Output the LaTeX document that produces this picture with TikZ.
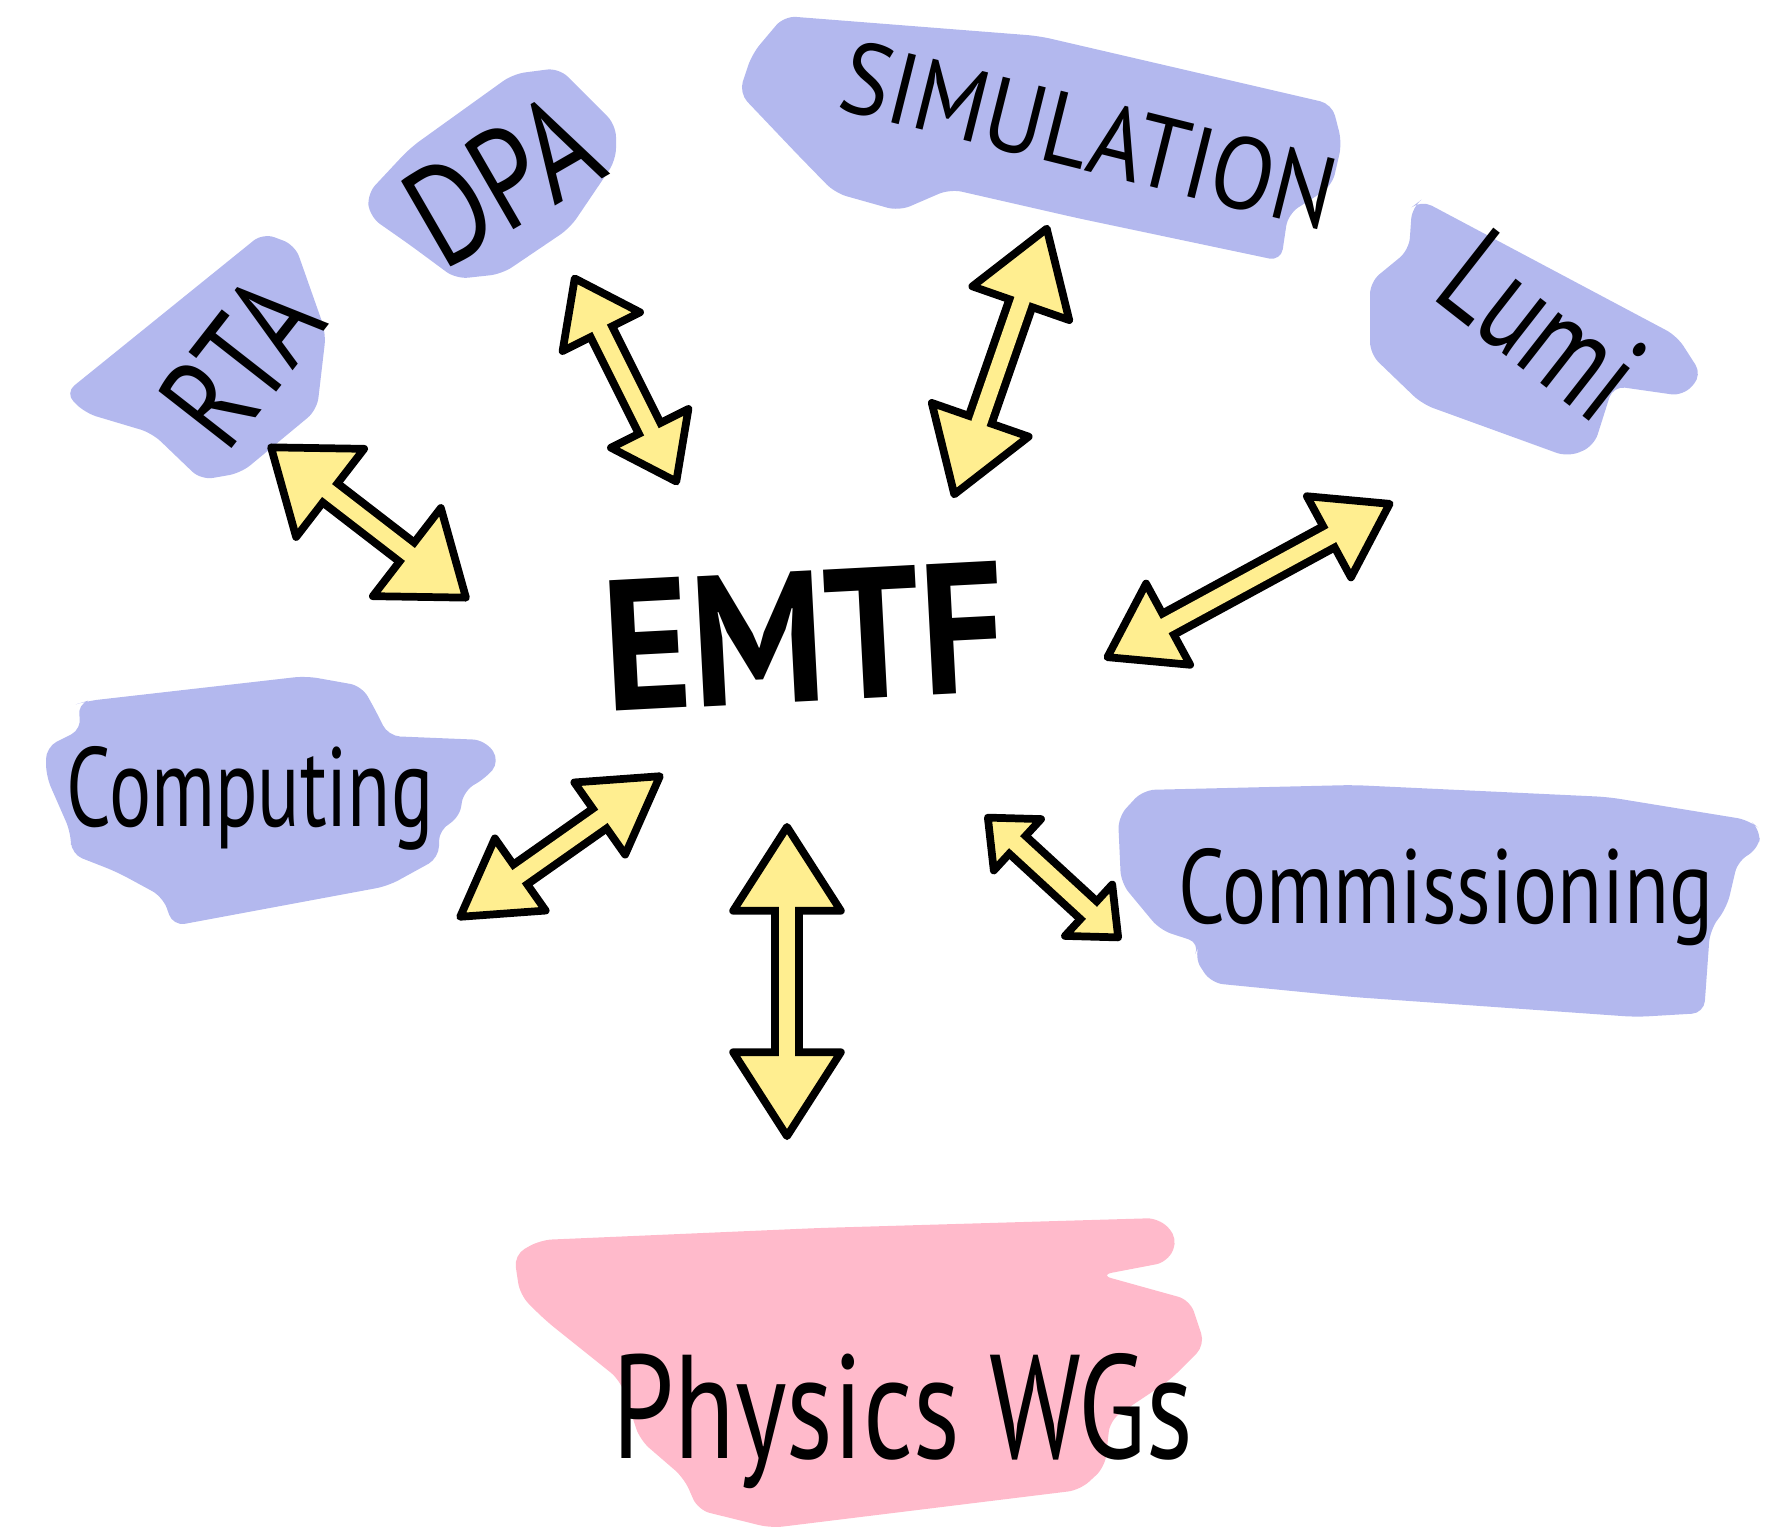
\documentclass[tikz,border=0pt]{standalone}
\usepackage{fontspec}
\usepackage{graphicx}
\setmainfont{PT Sans}
\usetikzlibrary{arrows.meta}

\definecolor{blobblue}{RGB}{179,184,238}
\definecolor{blobpink}{RGB}{255,186,203}
\definecolor{arrowyellow}{RGB}{255,238,144}

\newcommand{\squeeze}[2]{\scalebox{#1}[1]{#2}}

\begin{document}
\begin{tikzpicture}[
    blueblob/.style={fill=blobblue, rounded corners=0.12cm},
    pinkblob/.style={fill=blobpink, rounded corners=0.12cm},
    word/.style={inner sep=0pt, font=\fontsize{#1}{#1}\selectfont},
    fatarrow/.style 2 args={line width=0.32cm, black,
        {Triangle[round, fill=arrowyellow, line width=2.2pt, width=#1, length=#2]}-{Triangle[round, fill=arrowyellow, line width=2.2pt, width=#1, length=#2]},
        postaction={draw=arrowyellow, line width=0.16cm, -, shorten <=0.5*#2, shorten >=0.5*#2}}
    ]
    \useasboundingbox (0,0) rectangle (17.88,-15.39);

    % colour patches
    \fill[blueblob] (0.65,-3.93) -- (2.63,-2.33) -- (2.95,-2.45) -- (3.26,-3.33) -- (3.17,-4.10) -- (2.41,-4.73) -- (2.01,-4.80) -- (1.52,-4.33) -- (0.85,-4.13) -- cycle;
    \fill[blueblob] (3.67,-1.94) -- (4.10,-1.48) -- (5.13,-0.74) -- (5.59,-0.68) -- (6.16,-1.25) -- (6.16,-1.60) -- (5.70,-2.28) -- (5.02,-2.74) -- (4.56,-2.79) -- (4.10,-2.45) -- (3.70,-2.17) -- cycle;
    \fill[blueblob] (7.52,-0.54) -- (7.84,-0.16) -- (10.39,-0.36) -- (13.32,-1.04) -- (13.42,-1.43) -- (13.32,-1.86) -- (12.88,-2.14) -- (12.81,-2.61) -- (10.77,-2.18) -- (9.50,-1.89) -- (8.99,-2.11) -- (8.35,-1.93) -- (7.97,-1.54) -- (7.39,-0.93) -- cycle;
    \fill[blueblob] (14.21,-2.00) -- (16.77,-3.36) -- (17.02,-3.75) -- (16.83,-3.96) -- (16.13,-3.86) -- (15.94,-4.46) -- (15.68,-4.57) -- (14.22,-4.04) -- (13.70,-3.54) -- (13.70,-2.82) -- (14.09,-2.50) -- (14.12,-2.07) -- cycle;
    \fill[blueblob] (0.87,-7.01) -- (3.06,-6.76) -- (3.62,-6.86) -- (3.78,-7.15) -- (3.88,-7.36) -- (4.85,-7.40) -- (5.00,-7.61) -- (4.85,-7.79) -- (4.64,-7.90) -- (4.59,-8.19) -- (4.39,-8.29) -- (4.39,-8.58) -- (3.88,-8.86) -- (1.73,-9.26) -- (1.63,-8.97) -- (1.17,-8.72) -- (0.71,-8.54) -- (0.71,-8.33) -- (0.46,-7.76) -- (0.46,-7.47) -- (0.82,-7.29) -- (0.77,-7.04) -- cycle;
    \fill[blueblob] (11.18,-8.17) -- (11.43,-7.90) -- (13.53,-7.85) -- (16.08,-7.97) -- (17.49,-8.20) -- (17.61,-8.30) -- (17.58,-8.50) -- (17.38,-8.60) -- (17.27,-9.07) -- (17.10,-9.30) -- (17.04,-10.13) -- (16.36,-10.17) -- (13.53,-9.97) -- (12.11,-9.83) -- (11.94,-9.57) -- (12.00,-9.43) -- (11.60,-9.30) -- (11.21,-8.83) -- cycle;
    \fill[pinkblob] (5.14,-12.55) -- (5.40,-12.40) -- (8.19,-12.28) -- (11.59,-12.18) -- (11.78,-12.38) -- (11.68,-12.62) -- (11.00,-12.75) -- (11.90,-13.00) -- (12.05,-13.45) -- (11.70,-13.80) -- (11.10,-14.20) -- (11.05,-14.67) -- (10.80,-14.90) -- (7.71,-15.28) -- (6.98,-15.10) -- (6.84,-14.78) -- (6.40,-14.40) -- (6.20,-13.80) -- (5.45,-13.20) -- (5.20,-12.95) -- cycle;

    % labels
    \node[word=53, rotate=3] (emtf) at (8.04,-6.36) {\bfseries\squeeze{0.9}{EMTF}};
    \node[word=38, rotate=52] (rta) at (2.41,-3.60) {\squeeze{0.78}{RTA}};
    \node[word=40, rotate=30] (dpa) at (5.02,-1.80) {\squeeze{0.8}{DPA}};
    \node[word=29, rotate=-14] (sim) at (10.89,-1.35) {\squeeze{0.9}{SIMULATION}};
    \node[word=38, rotate=-38] (lumi) at (15.42,-3.25) {\squeeze{0.75}{Lumi}};
    \node[word=32] (comp) at (2.50,-7.98) {\squeeze{0.7}{Computing}};
    \node[word=30] (comm) at (14.46,-8.97) {\squeeze{0.78}{Commissioning}};
    \node[word=42] (phys) at (9.03,-14.21) {\squeeze{0.75}{Physics WGs}};

    % arrow ends
    \coordinate (rta-a) at (2.68,-4.45);
    \coordinate (rta-b) at (4.69,-6.00);
    \coordinate (dpa-a) at (5.73,-2.75);
    \coordinate (dpa-b) at (6.78,-4.85);
    \coordinate (sim-a) at (10.48,-2.25);
    \coordinate (sim-b) at (9.53,-4.98);
    \coordinate (lumi-a) at (13.93,-5.02);
    \coordinate (lumi-b) at (11.04,-6.59);
    \coordinate (comp-a) at (6.63,-7.74);
    \coordinate (comp-b) at (4.57,-9.19);
    \coordinate (comm-a) at (9.85,-8.15);
    \coordinate (comm-b) at (11.21,-9.40);
    \coordinate (phys-a) at (7.87,-8.23);
    \coordinate (phys-b) at (7.87,-11.40);

    \draw[fatarrow={1.25cm}{0.85cm}] (rta-a) -- (rta-b);
    \draw[fatarrow={1.0cm}{0.7cm}] (dpa-a) -- (dpa-b);
    \draw[fatarrow={1.15cm}{0.9cm}] (sim-a) -- (sim-b);
    \draw[fatarrow={1.05cm}{0.8cm}] (lumi-a) -- (lumi-b);
    \draw[fatarrow={1.0cm}{0.85cm}] (comp-a) -- (comp-b);
    \draw[fatarrow={0.85cm}{0.5cm}] (comm-a) -- (comm-b);
    \draw[fatarrow={1.2cm}{0.95cm}] (phys-a) -- (phys-b);
\end{tikzpicture}
\end{document}
